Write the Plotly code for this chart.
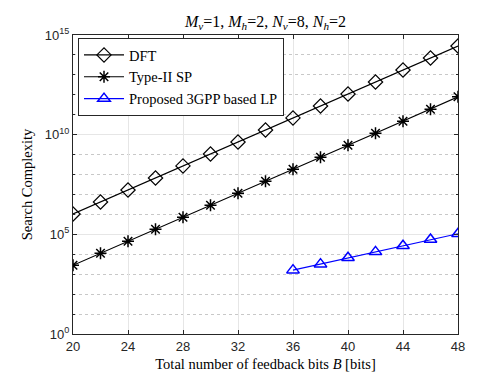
import plotly.graph_objects as go

# feedback bits
bits = [20, 22, 24, 26, 28, 30, 32, 34, 36, 38, 40, 42, 44, 46, 48]
bits_lp = [36, 38, 40, 42, 44, 46, 48]

# search complexity values
dft = [1.05e6, 4.2e6, 1.68e7, 6.7e7, 2.7e8, 1.07e9, 4.3e9, 1.72e10,
       6.9e10, 2.75e11, 1.1e12, 4.4e12, 1.76e13, 7.0e13, 2.8e14]
type2 = [2.8e3, 1.13e4, 4.5e4, 1.8e5, 7.2e5, 2.9e6, 1.15e7, 4.6e7,
         1.85e8, 7.4e8, 2.95e9, 1.18e10, 4.7e10, 1.89e11, 8.0e11]
proposed = [1.6e3, 3.2e3, 6.7e3, 1.32e4, 2.65e4, 5.5e4, 1.07e5]

# y tick labels
ytick_vals = [1, 1e5, 1e10, 1e15]
ytick_text = ["10<sup>0</sup>", "10<sup>5</sup>", "10<sup>10</sup>", "10<sup>15</sup>"]

serif = "Liberation Serif"
sans = "Liberation Sans"
axcol = "#262626"

fig = go.Figure()
fig.add_trace(go.Scatter(
    x=bits, y=dft, name="DFT", mode="lines+markers",
    line=dict(color="black", width=1.2),
    marker=dict(symbol="diamond-open", size=11, color="black", line=dict(width=1.2))))
fig.add_trace(go.Scatter(
    x=bits, y=type2, name="Type-II SP", mode="lines+markers",
    line=dict(color="black", width=1.2),
    marker=dict(symbol="asterisk-open", size=10, color="black", line=dict(width=1.5))))
fig.add_trace(go.Scatter(
    x=bits_lp, y=proposed, name="Proposed 3GPP based LP", mode="lines+markers",
    line=dict(color="blue", width=1.2),
    marker=dict(symbol="triangle-up-open", size=11, color="blue", line=dict(width=1.5))))

fig.update_layout(
    width=498, height=374,
    margin=dict(l=65, r=48, t=27, b=46),
    paper_bgcolor="white", plot_bgcolor="white",
    title=dict(
        text="<i>M</i><sub><i>v</i></sub>=1, <i>M</i><sub><i>h</i></sub>=2, "
             "<i>N</i><sub><i>v</i></sub>=8, <i>N</i><sub><i>h</i></sub>=2",
        x=0.5, xanchor="center", xref="paper", y=0.965, yanchor="middle",
        font=dict(family=serif, size=16, color="black")),
    legend=dict(
        x=0.013, y=0.99, xanchor="left", yanchor="top",
        bgcolor="white", bordercolor=axcol, borderwidth=1,
        font=dict(family=serif, size=14.5, color="black"),
        tracegroupgap=0, itemwidth=40),
)

fig.update_xaxes(
    range=[20, 48], tickvals=[20, 24, 28, 32, 36, 40, 44, 48],
    showgrid=True, gridcolor="#e6e6e6", gridwidth=1,
    showline=True, linecolor=axcol, linewidth=1, mirror="ticks",
    ticks="inside", ticklen=4, tickcolor=axcol,
    tickfont=dict(family=sans, size=13, color=axcol),
    zeroline=False,
    title=dict(text="Total number of feedback bits <i>B</i> [bits]",
               font=dict(family=serif, size=14.5, color="black"), standoff=6),
)
fig.update_yaxes(
    type="log", range=[0, 15], tickmode="array",
    tickvals=ytick_vals, ticktext=ytick_text,
    showgrid=True, gridcolor="#e6e6e6", gridwidth=1,
    minor=dict(tickmode="linear", tick0=0, dtick=1, showgrid=True,
               gridcolor="#c8c8c8", griddash="dot",
               ticks="inside", ticklen=2, tickcolor=axcol),
    showline=True, linecolor=axcol, linewidth=1, mirror="ticks",
    ticks="inside", ticklen=4, tickcolor=axcol,
    tickfont=dict(family=sans, size=13, color=axcol),
    zeroline=False,
    title=dict(text="Search Complexity",
               font=dict(family=serif, size=14.5, color="black"), standoff=8),
)

fig.write_html("out.html")
